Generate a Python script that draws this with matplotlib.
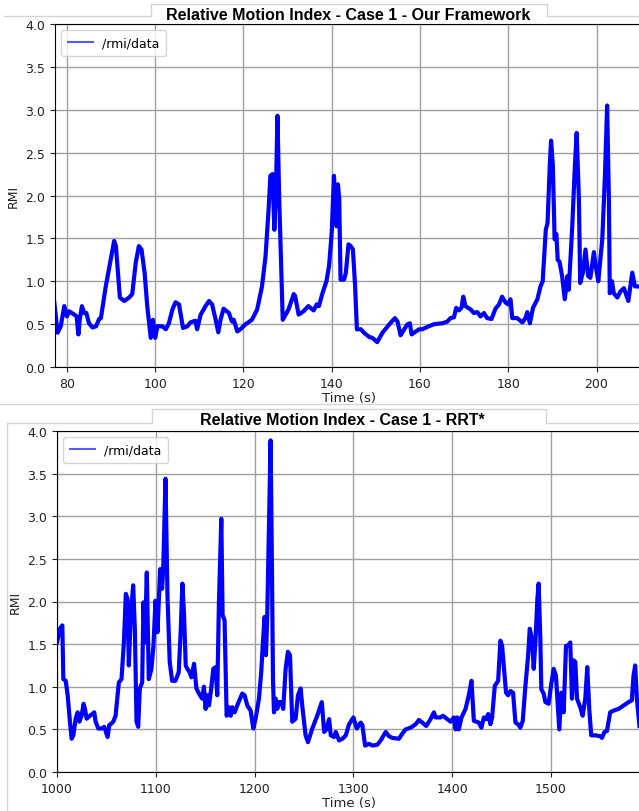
import matplotlib
matplotlib.use("Agg")
import matplotlib.pyplot as plt
from matplotlib.lines import Line2D

# case 1 - our framework
t_ours = [77.1, 77.9, 78.6, 79.4, 80.0, 80.5, 81.7, 82.2, 82.6, 82.9, 83.4, 83.9, 84.4, 85.0,
          85.8, 86.6, 87.3, 87.7, 88.8, 89.9, 90.7, 91.1, 91.7, 92.0, 93.0, 94.1, 94.8, 95.6,
          96.3, 96.9, 97.6, 98.2, 99.0, 99.5, 100.0, 100.5, 101.6, 102.4, 103.1, 103.9, 104.6,
          105.4, 106.3, 107.3, 108.0, 109.1, 109.5, 110.3, 111.4, 112.2, 112.9, 113.7, 114.3,
          114.8, 115.5, 116.7, 117.4, 117.8, 118.6, 119.3, 120.4, 121.9, 123.1, 124.2, 125.0,
          125.7, 126.1, 126.6, 127.0, 127.4, 127.7, 128.1, 128.6, 128.9, 130.2, 131.4, 131.7,
          132.5, 133.6, 134.7, 135.9, 136.6, 137.1, 137.9, 138.8, 139.4, 140.0, 140.5, 140.8,
          141.1, 141.4, 141.7, 142.0, 142.8, 143.2, 143.8, 144.3, 144.8, 145.3, 145.7, 146.6,
          147.3, 148.5, 149.2, 150.3, 151.5, 153.0, 154.3, 154.9, 155.6, 157.1, 157.7, 158.1,
          159.8, 160.5, 162.0, 163.2, 165.1, 166.2, 166.9, 167.7, 168.2, 168.8, 169.4, 169.8,
          170.3, 171.5, 172.2, 173.0, 173.7, 174.5, 175.2, 176.2, 177.1, 177.9, 178.6, 179.4,
          180.0, 180.5, 180.9, 182.0, 183.2, 183.9, 184.3, 184.9, 185.6, 186.6, 187.3, 187.8,
          188.5, 188.9, 189.4, 189.7, 190.1, 190.5, 190.9, 191.2, 191.6, 192.2, 192.8, 193.4,
          193.7, 194.5, 195.1, 195.5, 196.0, 196.3, 196.9, 197.5, 198.1, 198.6, 199.4, 199.8,
          200.4, 201.3, 201.9, 202.4, 202.8, 203.0, 203.5, 203.9, 204.7, 205.4, 206.2, 207.2,
          208.1, 208.7, 209.4, 210.5]
rmi_ours = [0.77, 0.40, 0.475, 0.71, 0.59, 0.65, 0.61, 0.59, 0.38, 0.55, 0.71, 0.63, 0.63, 0.51,
            0.46, 0.475, 0.56, 0.57, 0.94, 1.25, 1.47, 1.41, 1.02, 0.81, 0.77, 0.81, 0.85, 1.22,
            1.41, 1.37, 1.10, 0.71, 0.34, 0.55, 0.34, 0.475, 0.475, 0.44, 0.51, 0.67, 0.755,
            0.73, 0.455, 0.475, 0.52, 0.54, 0.44, 0.61, 0.71, 0.77, 0.73, 0.55, 0.405,
            0.55, 0.68, 0.63, 0.53, 0.55, 0.415, 0.44, 0.495, 0.55, 0.67, 0.94, 1.29,
            1.84, 2.23, 2.25, 1.60, 2.15, 2.93, 1.96, 1.10, 0.55, 0.67, 0.85, 0.83,
            0.61, 0.65, 0.71, 0.66, 0.73, 0.71, 0.86, 1.0, 1.18, 1.57, 2.23, 1.96,
            1.64, 2.13, 1.96, 1.02, 1.02, 1.10, 1.43, 1.41, 1.37, 0.94, 0.44, 0.44,
            0.40, 0.35, 0.34, 0.29, 0.40, 0.495, 0.57, 0.53, 0.37, 0.495, 0.51, 0.38,
            0.44, 0.44, 0.475, 0.50, 0.51, 0.53, 0.57, 0.58, 0.69, 0.66, 0.69, 0.82,
            0.71, 0.67, 0.63, 0.64, 0.59, 0.63, 0.57, 0.56, 0.68, 0.73, 0.82, 0.75,
            0.73, 0.79, 0.57, 0.57, 0.52, 0.57, 0.64, 0.51, 0.69, 0.79, 0.94, 1.0,
            1.60, 1.68, 2.35, 2.64, 2.35, 1.49, 1.55, 1.25, 1.23, 1.06, 0.79, 1.06,
            0.90, 1.64, 2.35, 2.73, 1.96, 0.98, 1.10, 1.37, 1.06, 1.04, 1.34, 1.18,
            1.0, 1.49, 2.23, 3.05, 1.96, 0.86, 1.0, 0.86, 0.81, 0.88, 0.92, 0.77,
            1.10, 0.94, 0.94, 0.93]

# case 1 - RRT*
t_rrt = [1000.0, 1003.0, 1005.4, 1006.4, 1008.8, 1010.8, 1013.1, 1014.8, 1016.5, 1018.9, 1020.9,
         1022.6, 1024.9, 1026.9, 1028.3, 1030.0, 1033.3, 1035.7, 1037.7, 1039.1, 1041.8, 1045.1,
         1047.8, 1049.5, 1051.2, 1052.9, 1055.2, 1056.9, 1059.3, 1061.3, 1062.6, 1065.3, 1067.7,
         1069.7, 1071.4, 1072.7, 1074.7, 1077.1, 1078.8, 1080.5, 1082.2, 1083.8, 1086.2, 1087.5,
         1088.9, 1090.9, 1092.9, 1095.6, 1097.6, 1099.7, 1101.7, 1104.4, 1106.4, 1107.7, 1109.8,
         1111.8, 1114.1, 1116.5, 1119.9, 1123.2, 1125.3, 1126.9, 1128.6, 1130.3, 1131.9, 1134.3,
         1136.0, 1138.7, 1141.1, 1142.8, 1144.8, 1147.0, 1148.7, 1150.4, 1152.1, 1153.8, 1156.1,
         1158.2, 1160.5, 1162.2, 1163.9, 1166.3, 1167.6, 1169.6, 1171.7, 1174.0, 1175.7, 1177.4,
         1179.8, 1183.1, 1187.5, 1189.9, 1192.6, 1196.0, 1198.7, 1201.0, 1204.4, 1206.7, 1208.4,
         1210.1, 1211.5, 1212.8, 1214.5, 1216.2, 1217.5, 1218.6, 1219.6, 1221.3, 1222.9, 1224.6,
         1227.0, 1229.0, 1231.4, 1233.7, 1235.8, 1238.1, 1241.5, 1243.9, 1246.6, 1248.2, 1251.6,
         1254.0, 1258.4, 1263.4, 1268.0, 1270.4, 1272.7, 1275.4, 1277.1, 1280.5, 1282.2, 1285.5,
         1288.9, 1292.3, 1295.6, 1300.0, 1303.4, 1307.4, 1309.1, 1311.8, 1315.8, 1319.2, 1324.2,
         1327.6, 1332.7, 1336.0, 1339.4, 1346.1, 1349.5, 1352.9, 1357.9, 1363.0, 1366.3, 1369.7,
         1373.7, 1378.1, 1381.5, 1383.2, 1388.2, 1390.6, 1394.9, 1398.3, 1401.7, 1403.4, 1405.1,
         1406.7, 1409.4, 1413.5, 1416.8, 1419.5, 1421.9, 1426.9, 1429.6, 1432.0, 1434.3, 1436.4,
         1438.7, 1440.4, 1443.1, 1446.5, 1448.8, 1450.5, 1452.2, 1454.5, 1456.6, 1458.9, 1461.6,
         1464.0, 1466.7, 1469.0, 1471.4, 1474.1, 1476.8, 1478.5, 1480.8, 1482.5, 1484.2, 1486.2,
         1487.5, 1489.2, 1490.2, 1492.6, 1494.3, 1497.6, 1500.0, 1502.7, 1505.0, 1507.1, 1508.4,
         1510.4, 1512.8, 1515.2, 1517.2, 1519.5, 1521.2, 1522.9, 1524.6, 1526.3, 1529.6, 1532.0,
         1534.7, 1536.7, 1538.7, 1540.7, 1544.8, 1549.8, 1551.5, 1554.2, 1556.6, 1559.9, 1563.3,
         1568.4, 1573.4, 1578.5, 1581.8, 1583.5, 1585.2, 1586.9, 1589.5]
rmi_rrt = [1.52, 1.68, 1.72, 1.09, 1.07, 0.90, 0.59, 0.39, 0.43, 0.625, 0.70,
           0.59, 0.66, 0.80, 0.74, 0.625, 0.66, 0.68, 0.70, 0.59, 0.51, 0.51,
           0.53, 0.47, 0.41, 0.55, 0.57, 0.59, 0.66, 0.90, 1.05, 1.09, 1.52,
           2.09, 2.03, 1.25, 1.84, 2.19, 1.68, 0.59, 0.53, 0.98, 1.05, 1.99,
           1.52, 2.34, 1.09, 1.21, 1.48, 2.01, 1.64, 2.38, 2.15, 2.46, 3.44,
           2.07, 1.29, 1.07, 1.07, 1.17, 1.68, 2.21, 1.84, 1.25, 1.21, 1.17,
           1.11, 1.27, 0.98, 0.94, 0.90, 0.86, 1.0, 0.74, 0.90, 0.78, 0.98,
           1.21, 1.23, 0.90, 1.99, 2.97, 1.84, 1.78, 0.66, 0.76, 0.66, 0.76,
           0.70, 0.80, 0.92, 0.90, 0.78, 0.72, 0.51, 0.625, 0.86, 1.17, 1.52,
           1.82, 1.37, 1.84, 2.85, 3.89, 2.46, 1.09, 0.70, 0.86, 0.74, 0.82,
           0.82, 0.74, 1.21, 1.41, 1.37, 0.59, 0.625, 0.90, 0.98, 0.78, 0.43,
           0.35, 0.51, 0.66, 0.82, 0.47, 0.50, 0.62, 0.43, 0.41, 0.47, 0.37,
           0.39, 0.43, 0.56, 0.64, 0.51, 0.58, 0.55, 0.31, 0.33, 0.31, 0.32,
           0.37, 0.47, 0.42, 0.40, 0.39, 0.45, 0.50, 0.52, 0.56, 0.61, 0.58,
           0.54, 0.62, 0.70, 0.64, 0.64, 0.66, 0.62, 0.59, 0.64, 0.50, 0.64,
           0.50, 0.64, 0.74, 0.90, 1.07, 0.60, 0.58, 0.52, 0.64, 0.62, 0.68,
           0.56, 0.64, 1.01, 1.07, 1.54, 1.48, 1.25, 0.93, 0.90, 0.95, 0.93,
           0.58, 0.56, 0.52, 0.60, 1.01, 1.36, 1.68, 1.56, 1.21, 1.52, 2.03,
           2.21, 1.56, 0.97, 0.92, 0.82, 0.80, 1.01, 1.21, 1.13, 0.74, 0.50,
           0.93, 0.70, 1.48, 1.48, 1.52, 0.86, 1.31, 1.29, 0.86, 0.76, 0.66,
           0.86, 1.23, 0.74, 0.43, 0.43, 0.42, 0.40, 0.47, 0.48, 0.70, 0.72,
           0.74, 0.78, 0.82, 0.84, 1.13, 1.25, 0.86, 0.54]

W, H = 639, 812
fig = plt.figure(figsize=(W / 100, H / 100), dpi=100)

def px_axes(left, top, right, bottom):
    return fig.add_axes([left / W, 1 - bottom / H, (right - left) / W, (bottom - top) / H])

def style(ax, title, title_x, title_y, xlim, xticks):
    ax.set_ylim(0, 4)
    ax.set_yticks([0, 0.5, 1, 1.5, 2, 2.5, 3, 3.5, 4])
    ax.set_yticklabels(["0.0", "0.5", "1.0", "1.5", "2.0", "2.5", "3.0", "3.5", "4.0"])
    ax.set_xlim(*xlim)
    ax.set_xticks(xticks)
    ax.tick_params(labelsize=9, colors="#222222", length=3.5)
    ax.grid(True, color="#a0a0a0", lw=1.0)
    ax.set_axisbelow(True)
    ax.set_xlabel("Time (s)", fontsize=9.5, color="#222222", labelpad=1)
    ax.set_ylabel("RMI", fontsize=9, color="#222222", labelpad=4)
    handle = Line2D([], [], color="blue", alpha=0.65, lw=1.5)
    ax.legend([handle], ["/rmi/data"], loc="upper left", fontsize=9,
              handlelength=2.0, borderpad=0.5, framealpha=0.8)
    fig.text(title_x / W, title_y, title, ha="center", va="center", fontsize=11.5,
             fontweight="bold", family="Liberation Sans")

ax1 = px_axes(55, 25, 642, 368)
ax1.plot(t_ours, rmi_ours, color="blue", lw=3.0)
style(ax1, "Relative Motion Index - Case 1 - Our Framework", 348, 1 - 15 / H,
      (77.3, 210.3), [80, 100, 120, 140, 160, 180, 200])

ax2 = px_axes(57, 432, 642, 773)
ax2.plot(t_rrt, rmi_rrt, color="blue", lw=3.0)
style(ax2, "Relative Motion Index - Case 1 - RRT*", 342, 1 - 421 / H,
      (1000, 1592.1), [1000, 1100, 1200, 1300, 1400, 1500])

# frame remnants around the titles of the screenshot
def seg(x0, y0, x1, y1):
    fig.add_artist(Line2D([x0 / W, x1 / W], [1 - y0 / H, 1 - y1 / H],
                          color="#d4d4d4", lw=1.0))

seg(4, 17, 151, 17)
seg(151, 17, 151, 5)
seg(151, 5, 547, 5)
seg(547, 5, 547, 17)
seg(547, 17, 639, 17)
seg(0, 405, 639, 405)
seg(7, 424, 152, 424)
seg(152, 424, 152, 410)
seg(152, 410, 546, 410)
seg(546, 410, 546, 424)
seg(546, 424, 639, 424)
seg(7, 424, 7, 812)

fig.savefig("out.png", dpi=100)
